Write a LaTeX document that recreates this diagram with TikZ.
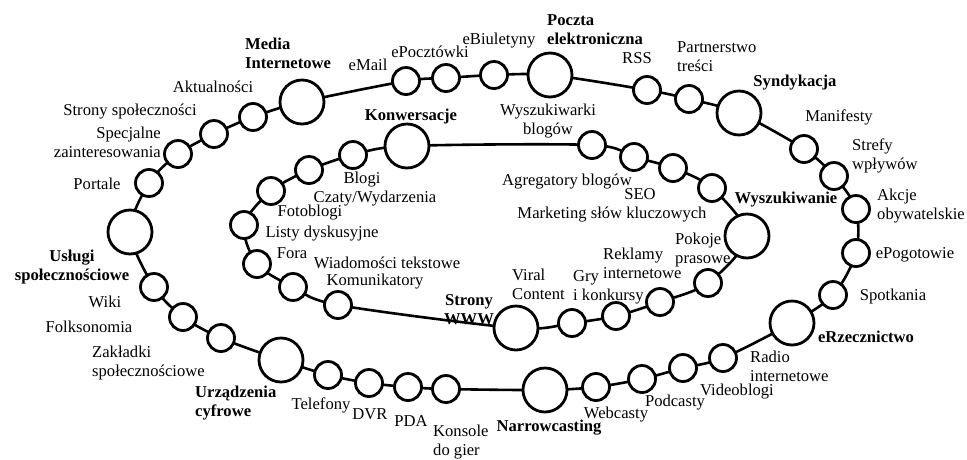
\documentclass[tikz,border=0pt]{standalone}
\usepackage{fontspec}
\setmainfont{Liberation Serif}
\usepackage{tikz}
\usetikzlibrary{positioning,backgrounds}
\tikzset{
  every node/.style={font=\fontsize{16.6}{19}\selectfont},
  % --- circles
  dot/.style  = {circle, draw, line width=2.8pt, fill=white, inner sep=0pt,
                 minimum size=27pt},
  hub/.style  = {dot, minimum size=44pt},
  % --- texts
  lbl/.style  = {inner sep=0pt, align=center},
  lbll/.style = {lbl, align=left, anchor=west},
  cat/.style  = {lbl, font=\fontsize{16.6}{19}\selectfont\bfseries},
  % --- ring line
  ring/.style = {line width=2.6pt, line join=round},
}

\begin{document}
\begin{tikzpicture}[x=1pt,y=-1pt]
  \useasboundingbox (0,0) rectangle (967,459);
  % outer ring
  \node[hub] (media)   at (302,102) {};
  \node[dot] (email)   at (406,81)  {};
  \node[dot] (epocz)   at (446,78)  {};
  \node[dot] (ebiul)   at (494,75)  {};
  \node[hub] (poczta)  at (550,75)  {};
  \node[dot] (rss)     at (647,90)  {};
  \node[dot] (partner) at (689,99)  {};
  \node[hub] (synd)    at (739,113) {};
  \node[dot] (manif)   at (804,149) {};
  \node[dot] (strefy)  at (834,176) {};
  \node[dot] (akcje)   at (856,209) {};
  \node[dot] (epog)    at (856,253) {};
  \node[dot] (spotk)   at (833,295) {};
  \node[hub] (erzecz)  at (792,323) {};
  \node[dot] (radio)   at (723,358) {};
  \node[dot] (video)   at (683,368) {};
  \node[dot] (podc)    at (642,379) {};
  \node[dot] (webc)    at (596,387) {};
  \node[hub] (narrow)  at (545,390) {};
  \node[dot] (konsole) at (446,389) {};
  \node[dot] (pda)     at (408,387) {};
  \node[dot] (dvr)     at (369,383) {};
  \node[dot] (tel)     at (328,375) {};
  \node[hub] (urz)     at (281,360) {};
  \node[dot] (zakl)    at (221,338) {};
  \node[dot] (folks)   at (183,317) {};
  \node[dot] (wiki)    at (154,287) {};
  \node[hub] (uslugi)  at (130,232) {};
  \node[dot] (portale) at (149,183) {};
  \node[dot] (specj)   at (178,154) {};
  \node[dot] (strony)  at (214,134) {};
  \node[dot] (aktual)  at (253,117) {};
  % inner ring
  \node[hub] (konw)    at (407,146) {};
  \node[dot] (wysz)    at (592,145) {};
  \node[dot] (agreg)   at (634,157) {};
  \node[dot] (seo)     at (673,168) {};
  \node[dot] (mark)    at (712,188) {};
  \node[hub] (wyszuk)  at (747,236) {};
  \node[dot] (pokoje)  at (708,283) {};
  \node[dot] (rekl)    at (660,302) {};
  \node[dot] (gry)     at (616,316) {};
  \node[dot] (viral)   at (572,323) {};
  \node[hub] (www)     at (516,328) {};
  \node[dot] (komun)   at (338,305) {};
  \node[dot] (wiad)    at (293,287) {};
  \node[dot] (fora)    at (257,264) {};
  \node[dot] (listy)   at (244,225) {};
  \node[dot] (foto)    at (271,191) {};
  \node[dot] (czaty)   at (309,170) {};
  \node[dot] (blogi)   at (353,155) {};

  \begin{scope}[on background layer]
    \draw[ring] plot[smooth cycle, tension=0.5] coordinates {
      (media) (email) (epocz) (ebiul) (poczta) (rss) (partner) (synd)
      (manif) (strefy) (akcje) (epog) (spotk) (erzecz) (radio) (video)
      (podc) (webc) (narrow) (konsole) (pda) (dvr) (tel) (urz) (zakl)
      (folks) (wiki) (uslugi) (portale) (specj) (strony) (aktual)};
    \draw[ring] plot[smooth cycle, tension=0.5] coordinates {
      (konw) (wysz) (agreg) (seo) (mark) (wyszuk) (pokoje) (rekl) (gry)
      (viral) (www) (komun) (wiad) (fora) (listy) (foto) (czaty) (blogi)};
  \end{scope}

  % outer labels
  \node[cat, align=left, anchor=west] (l-media) at (245,53) {Media\\Internetowe};
  \node[lbl] (l-email)   at (368,65)  {eMail};
  \node[lbl] (l-epocz)   at (430,52)  {ePocztówki};
  \node[lbl] (l-ebiul)   at (499,41)  {eBiuletyny};
  \node[cat, align=left, anchor=west] (l-poczta) at (547,30) {Poczta\\elektroniczna};
  \node[lbl] (l-rss)     at (637,58)  {RSS};
  \node[lbll] (l-partner) at (677,57) {Partnerstwo\\treści};
  \node[cat] (l-synd)    at (795,83)  {Syndykacja};
  \node[lbl] (l-manif)   at (839,117) {Manifesty};
  \node[lbll] (l-strefy) at (852,156) {Strefy\\wpływów};
  \node[lbll] (l-akcje)  at (877,206) {Akcje\\obywatelskie};
  \node[lbl] (l-epog)    at (915,255) {ePogotowie};
  \node[lbl] (l-spotk)   at (893,297) {Spotkania};
  \node[cat] (l-erzecz)  at (866,337) {eRzecznictwo};
  \node[lbll] (l-radio)  at (750,366) {Radio\\internetowe};
  \node[lbl] (l-video)   at (737,392) {Videoblogi};
  \node[lbl] (l-podc)    at (675,403) {Podcasty};
  \node[lbl] (l-webc)    at (616,415) {Webcasty};
  \node[cat] (l-narrow)  at (549,428) {Narrowcasting};
  \node[lbll] (l-konsole) at (433,442) {Konsole\\do gier};
  \node[lbl] (l-pda)     at (411,421) {PDA};
  \node[lbl] (l-dvr)     at (370,414) {DVR};
  \node[lbl] (l-tel)     at (321,405) {Telefony};
  \node[cat, align=left, anchor=west] (l-urz) at (195,403) {Urządzenia\\cyfrowe};
  \node[lbll] (l-zakl)   at (92,363)  {Zakładki\\społecznościowe};
  \node[lbl] (l-folks)   at (89,327)  {Folksonomia};
  \node[lbl] (l-wiki)    at (105,302) {Wiki};
  \node[cat] (l-uslugi)  at (72,267)  {Usługi\\społecznościowe};
  \node[lbl] (l-portale) at (97,184)  {Portale};
  \node[lbl, align=right, anchor=east] (l-specj) at (161,142) {Specjalne\\zainteresowania};
  \node[lbl] (l-strony)  at (130,112) {Strony społeczności};
  \node[lbl] (l-aktual)  at (213,87)  {Aktualności};
  % inner labels
  \node[cat] (l-konw)    at (411,117) {Konwersacje};
  \node[lbl] (l-wysz)    at (548,121) {Wyszukiwarki\\blogów};
  \node[lbl] (l-agreg)   at (567,182) {Agregatory blogów};
  \node[lbl] (l-seo)     at (640,194) {SEO};
  \node[lbl] (l-mark)    at (612,215) {Marketing słów kluczowych};
  \node[cat] (l-wyszuk)  at (786,200) {Wyszukiwanie};
  \node[lbll] (l-pokoje) at (675,250) {Pokoje\\prasowe};
  \node[lbll] (l-rekl)   at (603,263) {Reklamy\\internetowe};
  \node[lbll] (l-gry)    at (573,287) {Gry\\i konkursy};
  \node[lbll] (l-viral)  at (512,284) {Viral\\Content};
  \node[cat] (l-www)     at (469,310) {Strony\\WWW};
  \node[lbl] (l-komun)   at (375,282) {Komunikatory};
  \node[lbl] (l-wiad)    at (387,263) {Wiadomości tekstowe};
  \node[lbl] (l-fora)    at (292,253) {Fora};
  \node[lbl] (l-listy)   at (322,234) {Listy dyskusyjne};
  \node[lbl] (l-foto)    at (310,213) {Fotoblogi};
  \node[lbl] (l-czaty)   at (375,199) {Czaty/Wydarzenia};
  \node[lbl] (l-blogi)   at (362,180) {Blogi};
\end{tikzpicture}
\end{document}
